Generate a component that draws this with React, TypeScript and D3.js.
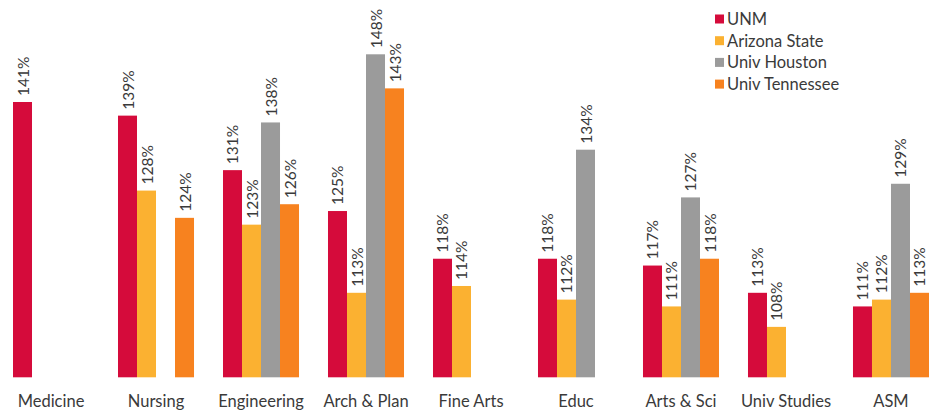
import React from "react";
import * as d3 from "d3";

const categories = ["Medicine", "Nursing", "Engineering", "Arch & Plan", "Fine Arts", "Educ", "Arts & Sci", "Univ Studies", "ASM"];
const seriesNames = ["UNM", "Arizona State", "Univ Houston", "Univ Tennessee"];
const unm: (number | null)[] = [141, 139, 131, 125, 118, 118, 117, 113, 111];
const arizonaState: (number | null)[] = [null, 128, 123, 113, 114, 112, 111, 108, 112];
const univHouston: (number | null)[] = [null, null, 138, 148, null, 134, 127, null, 129];
const univTennessee: (number | null)[] = [null, 124, 126, 143, null, null, 118, null, 113];
const seriesValues = [unm, arizonaState, univHouston, univTennessee];
const colors = ["#D50B3B", "#FBB131", "#9B9B9B", "#F7821F"];

const W = 931;
const H = 412;

export default function App() {
  const x = d3.scaleBand<string>().domain(categories).range([13, 929]).paddingInner(0.276).paddingOuter(0);
  const xs = d3.scaleBand<number>().domain([0, 1, 2, 3]).range([0, x.bandwidth()]).padding(0);
  const y = d3.scaleLinear().domain([100.6, 148]).range([377.3, 54.3]);
  const font = "Lato, Calibri, 'Open Sans', sans-serif";
  const textColor = "#3a3a3a";

  return (
    <svg width={W} height={H} style={{ position: "absolute", left: 0, top: 0, background: "#fff" }}>
      {seriesValues.map((vals, si) =>
        vals.map((v, ci) => {
          if (v == null) return null;
          const bx = (x(categories[ci]) ?? 0) + (xs(si) ?? 0);
          const bw = xs.bandwidth();
          const top = y(v);
          const cx = bx + bw / 2;
          const ty = top - 6;
          return (
            <g key={`${si}-${ci}`}>
              <rect x={bx} y={top} width={bw} height={y(100.6) - top} fill={colors[si]} />
              <text
                transform={`translate(${cx},${ty}) rotate(-90)`}
                textAnchor="start"
                dominantBaseline="central"
                fontFamily={font}
                fontSize={15.5}
                fill={textColor}
              >
                {`${v}%`}
              </text>
            </g>
          );
        })
      )}
      {categories.map((c) => (
        <text
          key={c}
          x={(x(c) ?? 0) + x.bandwidth() / 2}
          y={407}
          textAnchor="middle"
          fontFamily={font}
          fontSize={16.5}
          fill={textColor}
        >
          {c}
        </text>
      ))}
      <g>
        {seriesNames.map((s, i) => (
          <g key={s} transform={`translate(715,${19 + i * 21.7})`}>
            <rect x={0} y={-4.5} width={9} height={9} fill={colors[i]} />
            <text x={12} y={0} dominantBaseline="central" fontFamily={font} fontSize={16.5} fill={textColor}>
              {s}
            </text>
          </g>
        ))}
      </g>
    </svg>
  );
}
